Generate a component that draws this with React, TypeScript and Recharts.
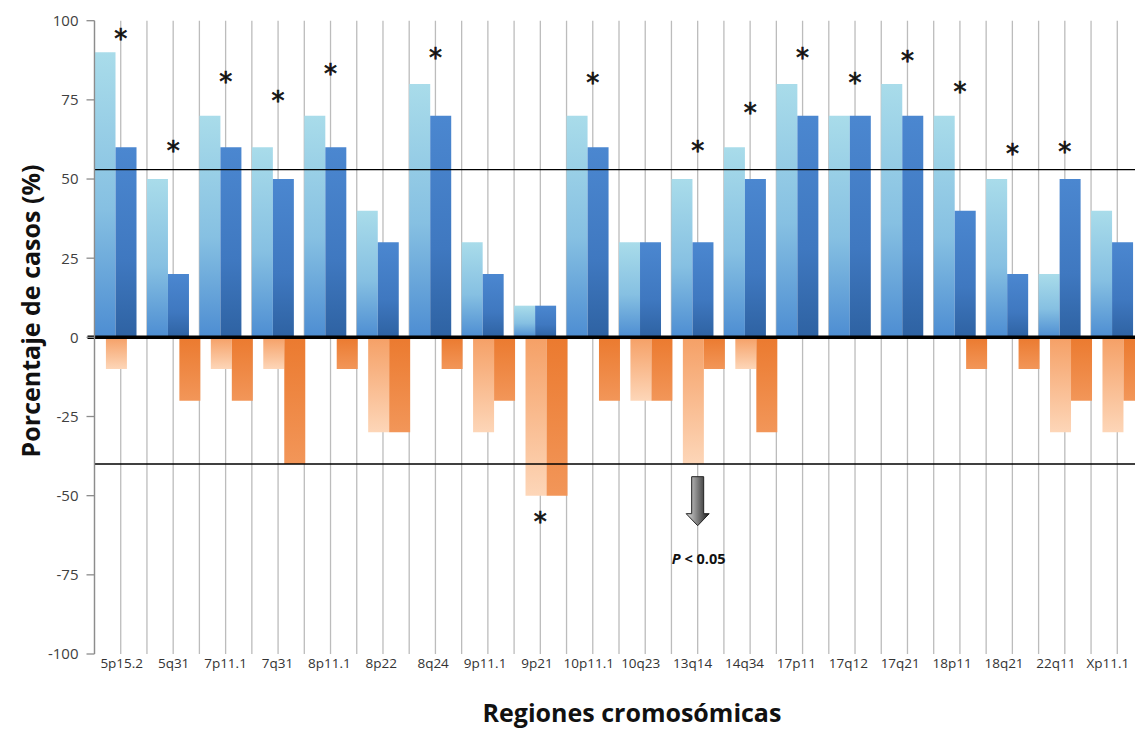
import React from 'react';
import {
  ComposedChart,
  Bar,
  Scatter,
  XAxis,
  YAxis,
  CartesianGrid,
  ReferenceLine,
  ReferenceDot,
  Rectangle,
} from 'recharts';

// chromosome regions on the x axis
const regions = [
  '5p15.2', '5q31', '7p11.1', '7q31', '8p11.1', '8p22', '8q24', '9p11.1', '9p21', '10p11.1',
  '10q23', '13q14', '14q34', '17p11', '17q12', '17q21', '18p11', '18q21', '22q11', 'Xp11.1',
];
// gains (blue) and losses (orange), two groups each
const gainLight = [90, 50, 70, 60, 70, 40, 80, 30, 10, 70, 30, 50, 60, 80, 70, 80, 70, 50, 20, 40];
const gainDark = [60, 20, 60, 50, 60, 30, 70, 20, 10, 60, 30, 30, 50, 70, 70, 70, 40, 20, 50, 30];
const lossLight = [-10, 0, -10, -10, 0, -30, 0, -30, -50, 0, -20, -40, -10, 0, 0, 0, 0, 0, -30, -30];
const lossDark = [0, -20, -20, -40, -10, -30, -10, -20, -50, -20, -20, -10, -30, 0, 0, 0, -10, -10, -20, -20];
// height of the significance asterisk, null = none
const starLevel = [95.5, 60, 82, 76, 84.5, null, 89.5, null, -57, 81.6, null, 60, 72, 89.5, 81.6, 88.5, 78.7, 59.2, 59.8, null];

const yTicks = [-100, -75, -50, -25, 0, 25, 50, 75, 100];
const upperCut = 53;
const lowerCut = -40;
const arrowRegion = '13q14';
const arrowTop = -44;

const data = regions.map((region, i) => ({
  region,
  gainLight: gainLight[i],
  gainDark: gainDark[i],
  lossLight: lossLight[i],
  lossDark: lossDark[i],
  star: starLevel[i],
}));

// blue pair sits flush left in its band, orange pair flush right
const SHIFT = 5.7;
const shiftedBar = (dx: number) => (props: any) => {
  if (!props.height) return <g />;
  return <Rectangle {...props} x={props.x + dx} />;
};

// the source's labels drift slightly left towards the right end
const RegionTick = (props: any) => {
  const { x, y, payload, index } = props;
  return (
    <text x={x + 1 - index * 0.55} y={y} dy="0.71em" textAnchor="middle" fontSize={13.5} fill="#333">
      {payload.value}
    </text>
  );
};

const Star = (props: any) => {
  const { cx, cy, payload } = props;
  if (payload == null || payload.star == null || cy == null || isNaN(cy)) return <g />;
  return (
    <text
      x={cx}
      y={cy + 13}
      textAnchor="middle"
      fontSize={26}
      fontFamily="DejaVu Sans"
      fill="#111"
      stroke="#111"
      strokeWidth={0.7}
    >
      *
    </text>
  );
};

const Arrow = (props: any) => {
  const { cx, cy } = props;
  const path = `M${cx - 6},${cy} L${cx + 6},${cy} L${cx + 6},${cy + 37} L${cx + 11.5},${cy + 37} L${cx},${cy + 49} L${cx - 11.5},${cy + 37} L${cx - 6},${cy + 37} Z`;
  return (
    <g>
      <path d={path} fill="url(#arrowFill)" stroke="#222" strokeWidth={1} />
      <text x={cx + 1} y={cy + 87} textAnchor="middle" fontSize={14.5} fontWeight="bold" fontFamily="'Open Sans', sans-serif" fill="#111">
        <tspan fontStyle="italic">P</tspan> &lt; 0.05
      </text>
    </g>
  );
};

const ZeroLine = (props: any) => (
  <line x1={props.x1 - 7} y1={props.y1} x2={props.x2} y2={props.y2} stroke="#000" strokeWidth={3.5} />
);

const halfBandLines = ({ offset }: any) => {
  const n = regions.length * 2;
  return Array.from({ length: n + 1 }, (_, i) => offset.left + (offset.width * i) / n);
};

export default function App() {
  return (
    <div
      style={{
        position: 'absolute',
        left: 0,
        top: 0,
        width: 1135,
        height: 729,
        overflow: 'hidden',
        background: '#fff',
        fontFamily: "'Open Sans', sans-serif",
      }}
    >
      <ComposedChart
        width={1150}
        height={729}
        data={data}
        stackOffset="sign"
        barGap={0}
        barCategoryGap="10.9%"
        margin={{ top: 20.7, right: 6.5, bottom: 45, left: 34.5 }}
      >
        <defs>
          <linearGradient id="gLight" x1="0" y1="0" x2="0" y2="1">
            <stop offset="0%" stopColor="#a9dcea" />
            <stop offset="55%" stopColor="#86c0e2" />
            <stop offset="100%" stopColor="#4d8dd2" />
          </linearGradient>
          <linearGradient id="gDark" x1="0" y1="0" x2="0" y2="1">
            <stop offset="0%" stopColor="#4b87d0" />
            <stop offset="60%" stopColor="#3f78c0" />
            <stop offset="100%" stopColor="#2e62a2" />
          </linearGradient>
          <linearGradient id="lLight" x1="0" y1="0" x2="0" y2="1">
            <stop offset="0%" stopColor="#f5a066" />
            <stop offset="100%" stopColor="#fdd6b8" />
          </linearGradient>
          <linearGradient id="lDark" x1="0" y1="0" x2="0" y2="1">
            <stop offset="0%" stopColor="#eb7a2f" />
            <stop offset="100%" stopColor="#f29659" />
          </linearGradient>
          <linearGradient id="arrowFill" x1="0" y1="0" x2="1" y2="0">
            <stop offset="0%" stopColor="#e0e0e0" />
            <stop offset="100%" stopColor="#1a1a1a" />
          </linearGradient>
        </defs>
        <CartesianGrid
          horizontal={false}
          vertical
          stroke="#bcbcbc"
          strokeWidth={1.3}
          verticalCoordinatesGenerator={halfBandLines}
        />
        <XAxis
          dataKey="region"
          height={30}
          axisLine={false}
          tickLine={false}
          tickSize={0}
          tickMargin={4}
          interval={0}
          tick={<RegionTick />}
        />
        <YAxis
          width={60}
          domain={[-100, 100]}
          ticks={yTicks}
          interval={0}
          tickSize={8}
          tickMargin={8}
          axisLine={{ stroke: '#8c8c8c', strokeWidth: 1.3 }}
          tickLine={{ stroke: '#8c8c8c', strokeWidth: 1.3 }}
          tick={{ fill: '#404040', fontSize: 15 }}
        />
        <Bar dataKey="gainLight" stackId="a" fill="url(#gLight)" shape={shiftedBar(-SHIFT)} isAnimationActive={false} />
        <Bar dataKey="gainDark" stackId="b" fill="url(#gDark)" shape={shiftedBar(-SHIFT)} isAnimationActive={false} />
        <Bar dataKey="lossLight" stackId="a" fill="url(#lLight)" shape={shiftedBar(SHIFT)} isAnimationActive={false} />
        <Bar dataKey="lossDark" stackId="b" fill="url(#lDark)" shape={shiftedBar(SHIFT)} isAnimationActive={false} />
        <ReferenceLine y={upperCut} stroke="#000" strokeWidth={1.3} />
        <ReferenceLine y={lowerCut} stroke="#000" strokeWidth={1.3} />
        <ReferenceLine y={0} shape={ZeroLine} />
        <Scatter dataKey="star" shape={Star} isAnimationActive={false} />
        <ReferenceDot x={arrowRegion} y={arrowTop} r={1} shape={Arrow} />
      </ComposedChart>
      <div
        style={{
          position: 'absolute',
          left: 30,
          top: 311,
          transform: 'translate(-50%, -50%) rotate(-90deg)',
          whiteSpace: 'nowrap',
          fontWeight: 'bold',
          fontSize: 25,
          lineHeight: 1,
          color: '#111',
        }}
      >
        Porcentaje de casos (%)
      </div>
      <div
        style={{
          position: 'absolute',
          left: 632,
          top: 712,
          transform: 'translate(-50%, -50%)',
          whiteSpace: 'nowrap',
          fontWeight: 'bold',
          fontSize: 25,
          lineHeight: 1,
          color: '#111',
        }}
      >
        Regiones cromosómicas
      </div>
    </div>
  );
}
